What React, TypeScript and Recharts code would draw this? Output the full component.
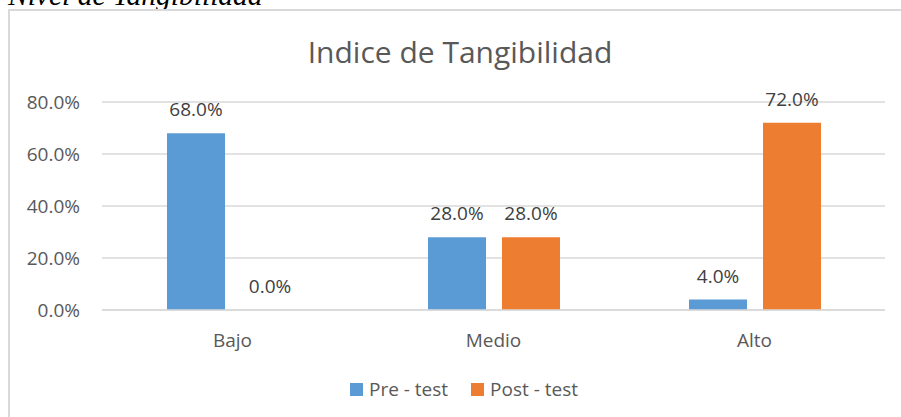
import { Bar, BarChart, CartesianGrid, LabelList, Legend, XAxis, YAxis } from 'recharts';

const categories = ['Bajo', 'Medio', 'Alto'];
const preTest = [0.68, 0.28, 0.04];
const postTest = [0.0, 0.28, 0.72];
const yTicks = [0, 0.2, 0.4, 0.6, 0.8];
const seriesOrder = ['pre', 'post'];

const data = categories.map((name, i) => ({ name, pre: preTest[i], post: postTest[i] }));

const FONT = '"Open Sans", sans-serif';
const pct = (v: number) => `${(v * 100).toFixed(1)}%`;

function LegendContent({ payload }: any) {
  const items = [...(payload || [])].sort(
    (a: any, b: any) => seriesOrder.indexOf(a.dataKey) - seriesOrder.indexOf(b.dataKey)
  );
  return (
    <div style={{ display: 'flex', justifyContent: 'center', fontFamily: FONT, fontSize: 19, color: '#595959', height: 26 }}>
      {items.map((p: any, i: number) => (
        <div key={p.value} style={{ display: 'flex', alignItems: 'center', marginLeft: i ? 23 : 0 }}>
          <span style={{ width: 13, height: 13, background: p.color, display: 'inline-block', marginRight: 6 }} />
          <span>{p.value}</span>
        </div>
      ))}
    </div>
  );
}

export default function App() {
  return (
    <div style={{ position: 'absolute', top: 0, left: 0, width: 901, height: 417, overflow: 'hidden', background: '#fff' }}>
      <svg width={901} height={80} style={{ position: 'absolute', top: 0, left: 0 }}>
        <text x={8} y={5} fontFamily='"Liberation Serif", serif' fontStyle="italic" fontSize={29.5} fill="#000">
          Nivel de Tangibilidad
        </text>
        <text x={460} y={63} textAnchor="middle" fontFamily={FONT} fontSize={30} fill="#595959">
          Indice de Tangibilidad
        </text>
      </svg>
      <div
        style={{
          position: 'absolute',
          left: 8,
          top: 9,
          width: 920,
          height: 440,
          border: '2px solid #d9d9d9',
          boxSizing: 'border-box',
        }}
      />
      <div style={{ position: 'absolute', top: 0, left: 0 }}>
        <BarChart
          width={901}
          height={417}
          data={data}
          margin={{ top: 102, right: 16, bottom: 51, left: 42 }}
          barSize={58}
          barGap={16}
        >
          <CartesianGrid vertical={false} stroke="#d9d9d9" strokeWidth={1.5} />
          <XAxis
            dataKey="name"
            axisLine={{ stroke: '#d9d9d9', strokeWidth: 1.5 }}
            tickLine={false}
            tickMargin={18}
            height={30}
            tick={{ fill: '#595959', fontSize: 19, fontFamily: FONT }}
          />
          <YAxis
            domain={[0, 0.8]}
            ticks={yTicks}
            tickFormatter={pct}
            axisLine={false}
            tickLine={false}
            tickMargin={16}
            width={60}
            tick={{ fill: '#595959', fontSize: 19, fontFamily: FONT }}
          />
          <Legend
            content={<LegendContent />}
            wrapperStyle={{ position: 'absolute', top: 376, left: 8, width: 912 }}
          />
          <Bar dataKey="pre" name="Pre - test" fill="#5b9bd5" isAnimationActive={false}>
            <LabelList dataKey="pre" position="top" offset={17} formatter={pct} fill="#404040" fontSize={19} fontFamily={FONT} />
          </Bar>
          <Bar dataKey="post" name="Post - test" fill="#ed7d31" minPointSize={0.01} isAnimationActive={false}>
            <LabelList dataKey="post" position="top" offset={17} formatter={pct} fill="#404040" fontSize={19} fontFamily={FONT} />
          </Bar>
        </BarChart>
      </div>
    </div>
  );
}
